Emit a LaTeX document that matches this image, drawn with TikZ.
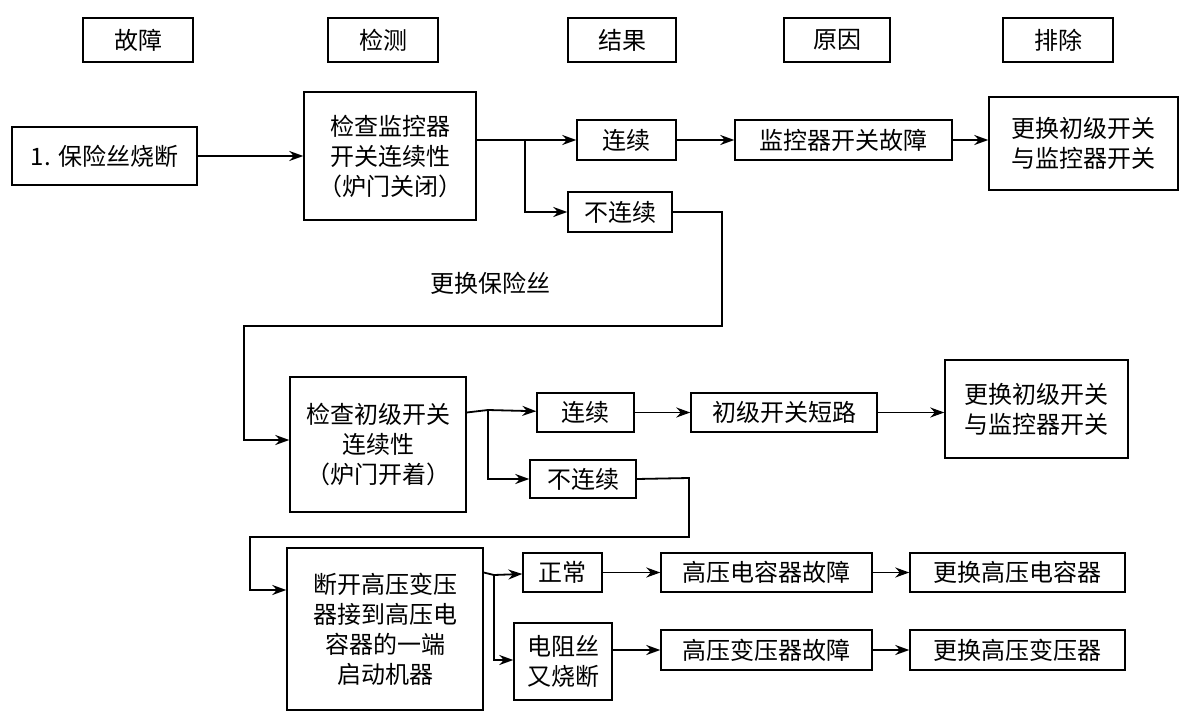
\documentclass[tikz,border=0pt]{standalone}
\usepackage{fontspec}
\setmainfont{Noto Sans CJK SC}
\usetikzlibrary{arrows.meta}
\begin{document}
\begin{tikzpicture}[x=1pt,y=-1pt,
  box/.style={draw,line width=1.4pt,inner sep=0pt,align=center,font=\fontsize{24}{30}\selectfont},
  lbl/.style={inner sep=0pt,font=\fontsize{24}{30}\selectfont},
  ar/.style={line width=1.8pt,-{Stealth[length=14pt,width=10pt]}},
  ln/.style={line width=1.8pt}]
\useasboundingbox (0,0) rectangle (1184,720);
\newcommand{\bx}[6]{\node[box,minimum width=#4-#2,minimum height=#5-#3] (#1) at ({(#2+#4)/2},{(#3+#5)/2}) {#6};}
\bx{h1}{83}{18}{193}{62}{故障}
\bx{h2}{328}{18}{438}{62}{检测}
\bx{h3}{568}{18}{676}{62}{结果}
\bx{h4}{784}{18}{890}{62}{原因}
\bx{h5}{1003}{18}{1113}{62}{排除}
\bx{f}{12}{127}{197}{185}{1. 保险丝烧断}
\bx{c1}{304}{92}{476}{220}{检查监控器\\开关连续性\\（炉门关闭）}
\bx{y1}{577}{120}{676}{160}{连续}
\bx{n1}{568}{192}{672}{232}{不连续}
\bx{r1}{735}{120}{952}{160}{监控器开关故障}
\bx{e1}{989}{97}{1178}{190}{更换初级开关\\与监控器开关}
\bx{c2}{290}{377}{466}{512}{检查初级开关\\连续性\\（炉门开着）}
\bx{y2}{537}{393}{634}{432}{连续}
\bx{n2}{530}{460}{636}{498}{不连续}
\bx{r2}{691}{393}{877}{432}{初级开关短路}
\bx{e2}{945}{360}{1128}{458}{更换初级开关\\与监控器开关}
\bx{c3}{287}{548}{483}{710}{断开高压变压\\器接到高压电\\容器的一端\\启动机器}
\bx{y3}{523}{553}{602}{592}{正常}
\bx{n3}{514}{623}{612}{700}{电阻丝\\又烧断}
\bx{r3}{661}{553}{872}{592}{高压电容器故障}
\bx{e3}{910}{553}{1125}{592}{更换高压电容器}
\bx{r4}{661}{630}{872}{670}{高压变压器故障}
\bx{e4}{910}{630}{1125}{670}{更换高压变压器}
\node[lbl] (t) at (490,283) {更换保险丝};
\coordinate (b1) at (525,140);
\coordinate (b2) at (488,410);
\coordinate (b3) at (494,575);
\draw[ar] (f) -- (c1.west|-f);
\draw[ln] (c1.east|-y1) -- (b1);
\draw[ar] (b1) -- (y1);
\draw[ar] (b1) |- (n1);
\draw[ar] (y1) -- (r1);
\draw[ar] (r1) -- (e1.west|-r1);
\draw[ar] (n1.east) -- (722,212) -- (722,326) -- (244,326) -- (244,440) -- (c2.west|-0,440);
\draw[ln] (c2.east|-y2) -- (b2);
\draw[ar] (b2) -- (y2);
\draw[ar] (b2) |- (n2);
\draw[ar] (y2) -- (r2);
\draw[ar] (r2) -- (e2.west|-r2);
\draw[ar] (n2.east) -- (689,478) -- (689,537) -- (250,537) -- (250,590) -- (c3.west|-0,590);
\draw[ln] (c3.east|-y3) -- (b3);
\draw[ar] (b3) -- (y3);
\draw[ar] (b3) |- (n3.west|-0,660);
\draw[ar] (y3) -- (r3);
\draw[ar] (r3) -- (e3);
\draw[ar] (n3.east|-r4) -- (r4);
\draw[ar] (r4) -- (e4);
\end{tikzpicture}
\end{document}
